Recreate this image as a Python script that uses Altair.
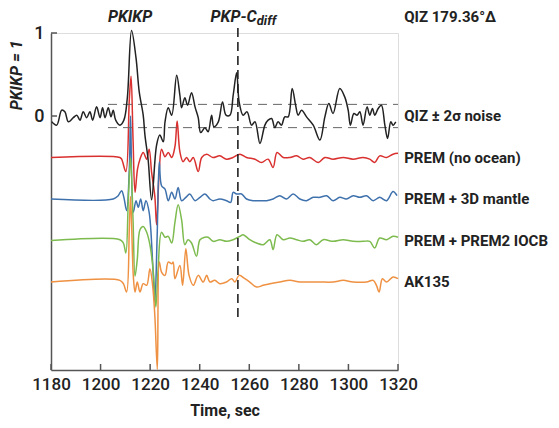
import altair as alt
import pandas as pd

# ---------------- data ----------------
series_names = ["QIZ", "PREM (no ocean)", "PREM + 3D mantle", "PREM + PREM2 IOCB", "AK135"]
series_offsets = [0.0, -0.5, -1.0, -1.5, -2.0]
series_colors = ["#222222", "#d9312f", "#3f72ad", "#7dbb4f", "#ef9142"]
label_texts = ["QIZ \u00b1 2\u03c3 noise", "PREM (no ocean)", "PREM + 3D mantle", "PREM + PREM2 IOCB", "AK135"]

qiz_t = [1180.3, 1182.3, 1184.3, 1185.6, 1187.0, 1189.0, 1190.4, 1191.7, 1193.0, 1194.4, 1195.7, 1196.8,
         1198.4, 1199.8, 1200.8, 1201.8, 1203.1, 1204.2, 1205.1, 1206.1, 1207.8, 1209.4, 1210.8, 1212.5,
         1214.3, 1215.6, 1217.2, 1217.9, 1219.2, 1220.6, 1222.6, 1223.9, 1225.3, 1226.0, 1227.3, 1228.7,
         1230.7, 1232.0, 1232.7, 1234.0, 1235.1, 1236.7, 1238.1, 1239.4, 1240.4, 1242.1, 1243.4, 1244.8,
         1245.7, 1247.5, 1249.2, 1250.6, 1252.2, 1253.5, 1254.9, 1255.9, 1257.5, 1259.1, 1260.9, 1262.3,
         1264.3, 1266.3, 1267.6, 1269.0, 1270.3, 1271.6, 1273.0, 1274.3, 1275.7, 1277.3, 1278.7, 1279.7,
         1281.1, 1283.1, 1285.8, 1288.5, 1290.5, 1292.1, 1293.8, 1296.5, 1298.5, 1299.9, 1300.8, 1302.2,
         1303.5, 1304.6, 1305.9, 1307.5, 1308.6, 1309.7, 1310.6, 1312.0, 1313.3, 1314.7, 1315.8, 1317.1,
         1318.0, 1319.1]
qiz_a = [-0.07, -0.11, 0.07, 0.05, -0.07, -0.02, 0.01, -0.05, 0.05, -0.02, 0.05, -0.05,
         0.11, -0.02, 0.10, -0.02, 0.10, -0.01, 0.07, -0.05, -0.11, -0.05, 0.22, 1.03,
         0.70, 0.29, 0.01, -0.23, -0.53, -1.01, -0.35, -0.23, -0.31, -0.07, 0.10, 0.01,
         0.49, 0.25, 0.10, 0.22, 0.13, 0.28, 0.11, -0.02, -0.20, -0.14, -0.19, 0.01,
         -0.13, -0.07, 0.17, 0.01, 0.01, 0.25, 0.52, 0.17, 0.01, 0.05, -0.11, -0.07,
         -0.33, -0.11, -0.05, -0.03, -0.14, -0.07, -0.11, -0.01, -0.01, 0.33, 0.13, 0.01,
         0.07, -0.01, -0.11, -0.29, -0.01, 0.15, 0.03, 0.33, 0.23, 0.07, -0.11, 0.03,
         0.01, 0.05, -0.11, 0.11, 0.01, 0.09, 0.01, 0.09, 0.13, -0.11, -0.27, -0.07,
         -0.11, -0.07]

red_t = [1180.0, 1207.8, 1208.5, 1210.2, 1211.6, 1212.3, 1213.1, 1213.9, 1214.9, 1215.9, 1217.2, 1218.6,
         1219.6, 1220.6, 1221.9, 1222.6, 1223.7, 1224.6, 1226.0, 1227.3, 1228.7, 1230.0, 1230.9, 1232.0,
         1233.3, 1234.7, 1236.0, 1237.4, 1239.4, 1240.8, 1242.8, 1245.3, 1248.1, 1250.8, 1253.4, 1256.2,
         1258.9, 1262.3, 1264.9, 1267.6, 1269.6, 1271.2, 1273.7, 1276.4, 1279.1, 1281.7, 1284.4, 1287.8,
         1290.5, 1293.8, 1297.9, 1301.9, 1305.9, 1308.6, 1310.6, 1312.6, 1315.4, 1318.0, 1320.0]
red_a = [0.0, 0.0, -0.02, -0.17, 0.70, 0.98, 0.22, -0.42, -0.14, -0.02, 0.06, -0.02,
         0.10, -0.18, -0.47, -0.81, -0.14, 0.10, 0.01, 0.06, 0.0, 0.13, 0.44, 0.07,
         -0.05, 0.0, -0.05, 0.0, -0.17, 0.0, 0.04, 0.0, 0.02, -0.02, 0.0, 0.04,
         0.0, -0.02, -0.06, -0.02, -0.12, 0.06, 0.0, 0.0, 0.02, -0.02, 0.0, -0.06,
         0.0, -0.02, 0.0, -0.02, 0.0, -0.02, -0.06, 0.02, 0.0, 0.04, 0.05]

blue_t = [1180.0, 1205.1, 1207.1, 1208.5, 1209.4, 1210.5, 1211.6, 1212.1, 1213.2, 1214.3, 1215.2, 1216.2,
          1217.2, 1218.3, 1219.6, 1221.0, 1221.9, 1222.8, 1223.7, 1224.6, 1226.0, 1227.3, 1228.7, 1230.0,
          1231.3, 1232.7, 1234.4, 1236.0, 1238.1, 1240.1, 1242.1, 1244.1, 1245.4, 1248.1, 1250.8, 1252.5,
          1253.5, 1254.9, 1256.9, 1258.9, 1261.6, 1264.3, 1267.0, 1269.6, 1272.3, 1275.0, 1277.7, 1280.4,
          1283.1, 1285.8, 1288.5, 1291.2, 1293.8, 1296.5, 1299.2, 1301.9, 1304.6, 1307.3, 1310.0, 1312.6,
          1315.4, 1318.0, 1319.6]
blue_a = [0.0, 0.0, 0.04, 0.10, 0.02, -0.14, 0.36, 1.00, -0.16, -0.02, -0.10, 0.0,
          -0.14, -0.02, -0.16, -0.76, -1.24, -0.48, 0.45, 0.16, 0.12, -0.02, 0.08, 0.0,
          0.14, -0.02, 0.02, 0.06, -0.02, 0.02, 0.06, 0.0, -0.02, 0.0, -0.02, -0.04,
          0.08, 0.06, 0.06, 0.0, -0.02, -0.02, -0.02, 0.0, 0.04, 0.0, 0.06, 0.0,
          -0.02, 0.02, 0.02, 0.04, -0.02, 0.02, 0.0, 0.04, 0.02, 0.04, -0.02, 0.02,
          -0.02, 0.09, 0.04]

green_t = [1180.0, 1207.8, 1209.2, 1210.2, 1211.2, 1212.1, 1213.1, 1213.9, 1214.8, 1215.9, 1217.2, 1218.6,
           1219.9, 1221.2, 1222.3, 1223.2, 1224.6, 1226.0, 1227.3, 1228.7, 1230.0, 1231.3, 1232.7, 1234.0,
           1235.3, 1236.7, 1238.7, 1240.1, 1242.1, 1243.4, 1245.4, 1248.1, 1250.8, 1253.5, 1256.2, 1257.5,
           1260.2, 1262.9, 1265.6, 1268.3, 1269.6, 1271.2, 1273.7, 1276.4, 1279.1, 1281.7, 1284.4, 1287.1,
           1289.8, 1293.8, 1297.9, 1301.9, 1305.9, 1308.6, 1310.6, 1312.6, 1315.4, 1318.0, 1320.0]
green_a = [0.0, 0.01, -0.03, -0.15, 0.49, 1.00, 0.25, -0.43, -0.23, 0.13, 0.17, 0.10,
           -0.05, -0.35, -0.80, -0.35, 0.10, 0.04, 0.05, -0.03, 0.22, 0.43, 0.25, -0.05,
           0.01, -0.03, -0.19, 0.01, 0.04, 0.04, -0.01, 0.01, -0.01, 0.01, 0.05, 0.07,
           0.01, -0.03, -0.05, 0.01, -0.11, 0.07, 0.01, 0.03, 0.01, -0.01, 0.01, -0.05,
           0.01, -0.01, 0.01, -0.01, -0.01, -0.01, -0.09, 0.03, 0.01, 0.05, 0.04]

orange_t = [1180.0, 1207.8, 1209.2, 1210.5, 1211.6, 1212.1, 1213.2, 1213.9, 1214.8, 1215.9, 1217.2, 1218.6,
            1219.9, 1221.0, 1221.9, 1222.9, 1223.7, 1224.6, 1226.0, 1227.3, 1228.7, 1229.3, 1230.0, 1232.0,
            1233.1, 1234.4, 1235.7, 1237.4, 1239.4, 1241.4, 1242.8, 1244.1, 1246.1, 1248.1, 1250.8, 1252.9,
            1254.2, 1255.9, 1258.2, 1260.2, 1262.9, 1265.6, 1268.3, 1272.3, 1276.4, 1280.4, 1284.4, 1288.5,
            1293.8, 1297.9, 1301.9, 1307.3, 1310.0, 1311.3, 1312.4, 1313.7, 1315.4, 1318.0, 1320.0]
orange_a = [0.0, 0.02, -0.02, -0.12, 0.64, 1.03, 0.08, -0.12, 0.0, -0.12, -0.02, -0.04,
            0.16, -0.04, -0.41, -1.05, 0.24, 0.12, 0.08, 0.24, 0.22, 0.24, 0.04, 0.20,
            -0.04, 0.40, 0.08, -0.04, 0.08, 0.0, 0.08, 0.0, 0.02, -0.02, 0.0, 0.04,
            0.0, 0.08, 0.04, 0.0, -0.06, -0.04, -0.02, 0.0, 0.02, 0.0, 0.0, 0.0,
            0.0, 0.02, 0.0, 0.0, 0.02, -0.04, -0.12, 0.04, 0.0, 0.06, 0.04]

noise_band = [0.14, -0.14]
noise_start, noise_end = 1203.0, 1320.0
cdiff_time = 1255.4
cdiff_span = [1.06, -2.46]
x_ticks = [1180, 1200, 1220, 1240, 1260, 1280, 1300, 1320]
y_ticks = [0, 1]

# ---------------- build tables ----------------
times = [qiz_t, red_t, blue_t, green_t, orange_t]
amps = [qiz_a, red_a, blue_a, green_a, orange_a]
rows = []
for name, off, ts, as_ in zip(series_names, series_offsets, times, amps):
    for t, a in zip(ts, as_):
        rows.append({"series": name, "t": t, "v": a + off})
df = pd.DataFrame(rows)

FONT = "Roboto"
W, H = 347, 337
xs = alt.Scale(domain=[1180, 1320], nice=False, zero=False)
ys = alt.Scale(domain=[-3.06, 1.0], nice=False, zero=False)
cscale = alt.Scale(domain=series_names, range=series_colors)

base_x = alt.X("t:Q", scale=xs,
               axis=alt.Axis(values=x_ticks, format="d", ticks=False, grid=False, domainColor="#555555",
                             domainWidth=1.5, labelFont=FONT, labelFontSize=17, labelFontWeight=500,
                             labelColor="#222222", labelPadding=6, title="Time, sec",
                             titleFont=FONT, titleFontSize=16, titleFontWeight="bold",
                             titleColor="#222222", titlePadding=10, labelFlush=False))
base_y = alt.Y("v:Q", scale=ys,
               axis=alt.Axis(values=y_ticks, format="d", ticks=False, grid=False, domainColor="#555555",
                             domainWidth=1.5, labelFont=FONT, labelFontSize=18, labelFontWeight=500,
                             labelColor="#222222", labelPadding=7, title=None))

colored = alt.Chart(df[df.series != "QIZ"]).mark_line(strokeWidth=1.5, clip=False,
                                                       interpolate="catmull-rom").encode(
    x=base_x, y=base_y,
    color=alt.Color("series:N", scale=cscale, legend=None),
    detail="series:N",
)
black = alt.Chart(df[df.series == "QIZ"]).mark_line(strokeWidth=1.5, color="#222222",
                                                    interpolate="catmull-rom").encode(
    x=alt.X("t:Q", scale=xs), y=alt.Y("v:Q", scale=ys)
)

noise_df = pd.DataFrame({"v": noise_band, "t": [noise_start] * 2, "t2": [noise_end] * 2})
noise = alt.Chart(noise_df).mark_rule(color="#666666", strokeWidth=1, strokeDash=[9, 6]).encode(
    x=alt.X("t:Q", scale=xs), x2="t2:Q", y=alt.Y("v:Q", scale=ys)
)

cd_df = pd.DataFrame({"t": [cdiff_time], "v": [cdiff_span[0]], "v2": [cdiff_span[1]]})
cdiff = alt.Chart(cd_df).mark_rule(color="#222222", strokeWidth=1.6, strokeDash=[9, 5]).encode(
    x=alt.X("t:Q", scale=xs), y=alt.Y("v:Q", scale=ys), y2="v2:Q"
)

xt_df = pd.DataFrame({"t": x_ticks})
xtick = alt.Chart(xt_df).mark_rule(color="#555555", strokeWidth=1.5).encode(
    x=alt.X("t:Q", scale=xs), y=alt.value(H), y2=alt.value(H - 6)
)
yt_df = pd.DataFrame({"v": y_ticks})
ytick = alt.Chart(yt_df).mark_rule(color="#555555", strokeWidth=1.5).encode(
    y=alt.Y("v:Q", scale=ys), x=alt.value(0), x2=alt.value(6)
)

lab_df = pd.DataFrame({"txt": label_texts, "v": series_offsets, "t": [1322.5] * 5})
labels = alt.Chart(lab_df).mark_text(align="left", baseline="middle", font=FONT, fontSize=15,
                                     fontWeight="bold", color="#222222").encode(
    x=alt.X("t:Q", scale=xs), y=alt.Y("v:Q", scale=ys), text="txt:N"
)

top_df = pd.DataFrame({
    "txt": ["PKIKP", "PKP-C", "diff", "QIZ 179.36\u00b0\u0394"],
    "t": [1211.9, 1263.0, 1263.0, 1322.5],
    "v": [1.19, 1.19, 1.145, 1.19],
})
pk = alt.Chart(top_df.iloc[[0]]).mark_text(align="center", baseline="middle", font=FONT, fontSize=16,
                                           fontWeight="bold", fontStyle="italic", color="#222222").encode(
    x=alt.X("t:Q", scale=xs), y=alt.Y("v:Q", scale=ys), text="txt:N")
pkp = alt.Chart(top_df.iloc[[1]]).mark_text(align="right", baseline="middle", font=FONT, fontSize=16,
                                            fontWeight="bold", fontStyle="italic", color="#222222").encode(
    x=alt.X("t:Q", scale=xs), y=alt.Y("v:Q", scale=ys), text="txt:N")
diff = alt.Chart(top_df.iloc[[2]]).mark_text(align="left", baseline="middle", font=FONT, fontSize=13,
                                             fontWeight="bold", fontStyle="italic", color="#222222").encode(
    x=alt.X("t:Q", scale=xs), y=alt.Y("v:Q", scale=ys), text="txt:N")
qiz = alt.Chart(top_df.iloc[[3]]).mark_text(align="left", baseline="middle", font=FONT, fontSize=15,
                                            fontWeight="bold", color="#222222").encode(
    x=alt.X("t:Q", scale=xs), y=alt.Y("v:Q", scale=ys), text="txt:N")

yt_title = pd.DataFrame({"txt": ["PKIKP = 1"], "t": [1166.3], "v": [0.49]})
ytitle = alt.Chart(yt_title).mark_text(align="center", baseline="middle", angle=270, font=FONT,
                                       fontSize=16, fontWeight="bold", fontStyle="italic",
                                       color="#222222").encode(
    x=alt.X("t:Q", scale=xs), y=alt.Y("v:Q", scale=ys), text="txt:N")

chart = alt.layer(
    colored, noise, cdiff, black, xtick, ytick, labels, pk, pkp, diff, qiz, ytitle
).properties(
    width=W, height=H,
    autosize=alt.AutoSizeParams(type="none"),
    padding={"left": 51, "top": 33, "right": 161, "bottom": 58},
).configure_view(stroke=None).configure(background="white")

chart.save("out.html", embed_options={"renderer": "svg", "actions": False})
